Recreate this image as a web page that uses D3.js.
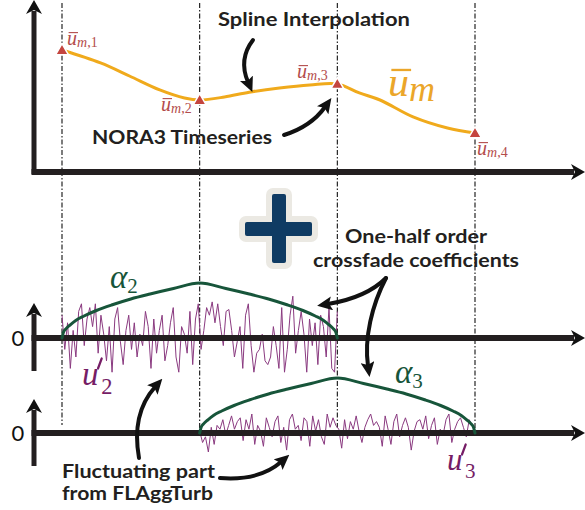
<!DOCTYPE html>
<html><head><meta charset="utf-8">
<script src="https://cdn.jsdelivr.net/npm/d3@7"></script>
<style>
body{margin:0;background:#fff}
.lbl{font-family:Lato,"Open Sans",sans-serif;font-weight:700;fill:#231f20}
.math{font-family:"Liberation Serif","DejaVu Serif",serif}
</style></head><body>
<svg id="fig" width="585" height="510"></svg>
<script>
// NORA3 hourly means (the red triangles)
var nodeT = [0, 1, 2, 3];
var nodeU = [8.13, 4.8, 5.87, 2.6];
var nodeLab = ["m,1", "m,2", "m,3", "m,4"];

// spline through the nodes
var splineT = [0, 0.28, 0.49, 0.71, 0.89, 1.0, 1.18, 1.36, 1.58, 1.8, 2.0, 2.16, 2.31, 2.55, 2.8, 3.0];
var splineU = [8.13, 7.27, 6.4, 5.47, 4.93, 4.8, 5.0, 5.32, 5.6, 5.8, 5.87, 5.27, 4.8, 3.67, 2.93, 2.6];

// one-half order crossfade, rising half (s in [0,1])
var fadeS = [0, 0.01, 0.03, 0.06, 0.1, 0.16, 0.25, 0.36, 0.5, 0.64, 0.81, 1];
var fadeA = [0, 0.1, 0.17, 0.24, 0.32, 0.4, 0.5, 0.6, 0.71, 0.8, 0.9, 1];

// fluctuating parts from FLAggTurb
var u2 = [0.6,-0.3,0.4,-0.8,0.2,-0.5,0.7,0.9,-0.2,0.5,0.8,0.3,0.9,-0.4,0.6,0.1,-0.6,0.3,-0.9,0.5,
  0.8,-0.1,-0.7,0.2,0.6,-0.3,0.4,-0.5,0.1,-0.2,0.7,0.3,-0.8,0.5,-0.4,0.2,0.6,-0.6,-0.2,0.4,
  0.8,-0.5,-0.9,0.3,0.1,-0.4,0.7,-0.7,0.5,0.9,-0.3,0.2,0.8,0.6,0.95,0.4,0.9,0.3,-0.2,0.7,
  0.75,0.2,-0.5,-0.1,0.3,-0.8,0.6,0.9,-0.2,-0.9,-0.4,-0.3,0.1,-0.6,-0.7,-0.5,0.3,-0.2,-0.8,0.8,
  -0.9,-0.3,0.6,1.1,-0.4,0.2,0.7,0.1,-0.9,0.5,-0.2,0.4,-0.7,0.6,0.3,-0.5,0.8,-0.8,-0.9,0.7];
var u3 = [0.05,-0.25,-0.1,-0.5,0.15,-0.3,0.2,0.1,0.35,-0.05,0.2,0.45,0.1,0.3,0.4,-0.2,0.35,0.1,0.5,-0.3,
  0.2,0.05,-0.35,0.4,0.15,-0.1,0.3,0.45,-0.25,0.15,-0.45,0.35,0.5,0.1,0.2,-0.2,0.4,0.3,-0.35,0.45,
  0.05,0.35,-0.1,-0.3,0.5,0.15,0.4,0.2,0.1,-0.4,0.35,-0.15,0.3,0.1,0.45,0.05,-0.25,0.15,0.35,0.5,
  0.2,0.3,0.15,-0.35,0.45,0.1,-0.3,0.3,0.5,-0.1,0.2,0.4,0.15,-0.45,0.05,0.3,0.35,0.1,0.45,-0.15,
  0.2,0.4,-0.3,0.1,-0.05,0.35,0.5,-0.25,0.1,0.3,0.4,0.15,-0.1,0.35,0.2,0.05];

var ink = "#231f20", red = "#c4453f", redTxt = "#b34c4c", gold = "#f0aa1c",
    green = "#17553a", purple = "#8a3a80", purpTxt = "#761d66";

var svg = d3.select("#fig");

var x = d3.scaleLinear().domain([0, 3]).range([62, 475]);
var yTop = d3.scaleLinear().domain([0, 10]).range([172, 22]);
var base2 = 338, base3 = 433;
var yFade = d3.scaleLinear().domain([0, 1]).range([0, 55]);
var yFluc = d3.scaleLinear().domain([-1, 1]).range([38, -38]);

var defs = svg.append("defs");
defs.append("marker").attr("id", "ah")
  .attr("viewBox", "0 -7 15 14").attr("refX", 4).attr("refY", 0)
  .attr("markerWidth", 15).attr("markerHeight", 14)
  .attr("markerUnits", "userSpaceOnUse").attr("orient", "auto")
  .append("path").attr("d", "M0,-7L15,0L0,7L3,0Z").attr("fill", "#111");
defs.append("marker").attr("id", "axh")
  .attr("viewBox", "0 -8 14 16").attr("refX", 3).attr("refY", 0)
  .attr("markerWidth", 14).attr("markerHeight", 16)
  .attr("markerUnits", "userSpaceOnUse").attr("orient", "auto")
  .append("path").attr("d", "M0,-8L14,0L0,8L4,0Z").attr("fill", "#111");

// dash-dot guides at the node times
svg.append("g").selectAll("line").data(nodeT).enter().append("line")
  .attr("x1", d => x(d)).attr("x2", d => x(d))
  .attr("y1", 3).attr("y2", (d, i) => i == 0 ? 425 : 430)
  .attr("stroke", "#111").attr("stroke-width", 1.1)
  .attr("stroke-dasharray", "5,2,1.5,2");

// fluctuations
function flucLine(vals, t0, base) {
  var n = vals.length;
  return d3.line()
    .x((d, i) => x(t0 + 2 * i / (n - 1)))
    .y(d => base + yFluc(d))(vals);
}
svg.append("path").attr("d", flucLine(u2, 0, base2))
  .attr("fill", "none").attr("stroke", purple).attr("stroke-width", 1);
svg.append("path").attr("d", flucLine(u3, 1, base3))
  .attr("fill", "none").attr("stroke", purple).attr("stroke-width", 1);

// axes
function axes(top, base, bottom) {
  svg.append("path").attr("d", "M34," + bottom + "V" + (top + 8))
    .attr("stroke", ink).attr("stroke-width", 5).attr("fill", "none")
    .attr("marker-end", "url(#axh)");
  svg.append("path").attr("d", "M31.5," + base + "H574")
    .attr("stroke", ink).attr("stroke-width", 6).attr("fill", "none")
    .attr("marker-end", "url(#axh)");
}
axes(3, 172, 174);
axes(306, base2, 371);
axes(402, base3, 466);
[base2, base3].forEach(function (b) {
  svg.append("text").attr("x", 18).attr("y", b + 8).attr("text-anchor", "middle")
    .attr("font-family", "Lato, sans-serif").attr("font-size", 22).attr("fill", "#111").text("0");
});

// crossfade coefficients
function fadePts(t0) {
  var up = fadeS.map((s, i) => [t0 + s, fadeA[i]]);
  var down = fadeS.map((s, i) => [t0 + 2 - s, fadeA[i]]).reverse();
  return up.concat(down.slice(1));
}
[[0, base2], [1, base3]].forEach(function (c) {
  var b = c[1];
  svg.append("path")
    .attr("d", d3.line().x(d => x(d[0])).y(d => b - yFade(d[1])).curve(d3.curveMonotoneX)(fadePts(c[0])))
    .attr("fill", "none").attr("stroke", green).attr("stroke-width", 3).attr("stroke-linecap", "round");
});

// spline of the means
svg.append("path")
  .attr("d", d3.line().x((d, i) => x(splineT[i])).y(d => yTop(d)).curve(d3.curveCatmullRom)(splineU))
  .attr("fill", "none").attr("stroke", gold).attr("stroke-width", 3);
svg.append("g").selectAll("path").data(nodeU).enter().append("path")
  .attr("d", d3.symbol().type(d3.symbolTriangle).size(70))
  .attr("transform", (d, i) => "translate(" + x(nodeT[i]) + "," + (yTop(d) + 1) + ")")
  .attr("fill", red).attr("stroke", "#fff").attr("stroke-width", 1.5);

// math labels with an overbar on u
function barU(px, py, sub, size, subSize, color) {
  var t = svg.append("text").attr("class", "math").attr("x", px).attr("y", py).attr("fill", color);
  t.append("tspan").attr("font-style", "italic").attr("font-size", size).text("u");
  var parts = sub.split(",");
  t.append("tspan").attr("font-style", "italic").attr("font-size", subSize).attr("dy", size * 0.12).text(parts[0]);
  if (parts.length > 1) t.append("tspan").attr("font-size", subSize).text("," + parts[1]);
  var w = t.node().getSubStringLength(0, 1);
  svg.append("line").attr("x1", px + size * 0.08).attr("x2", px + w + size * 0.05)
    .attr("y1", py - size * 0.62).attr("y2", py - size * 0.62)
    .attr("stroke", color).attr("stroke-width", Math.max(1, size * 0.055));
}
var labPos = [[67, 45], [161, 111], [297, 78], [477, 155]];
nodeLab.forEach((s, i) => barU(labPos[i][0], labPos[i][1], s, 20, 14, redTxt));
barU(388, 96, "m", 42, 36, "#eba62a");

// u' labels: letter, drawn prime stroke and subscript
function primeU(px, py, sub, size) {
  svg.append("text").attr("class", "math").attr("x", px).attr("y", py)
    .attr("font-style", "italic").attr("font-size", size).attr("fill", purpTxt).text("u");
  var px0 = px + size * 0.5, py0 = py - size * 0.5;
  svg.append("path")
    .attr("d", "M" + (px0 + 3.2) + "," + (py0 - 10) + "L" + (px0 - 0.5) + "," + py0)
    .attr("stroke", purpTxt).attr("stroke-width", 2.2).attr("stroke-linecap", "round");
  svg.append("text").attr("class", "math").attr("x", px + size * 0.58).attr("y", py + size * 0.26)
    .attr("font-size", size * 0.68).attr("fill", purpTxt).text(sub);
}
primeU(82, 385, "2", 33);
primeU(447, 470, "3", 31);

function alphaLab(px, py, sub) {
  var t = svg.append("text").attr("class", "math").attr("x", px).attr("y", py).attr("fill", green);
  t.append("tspan").attr("font-style", "italic").attr("font-size", 33).text("\u03b1");
  t.append("tspan").attr("font-size", 21).attr("dy", 5).text(sub);
}
alphaLab(110, 288, "2");
alphaLab(395, 383, "3");

// captions, stretched to the widths measured on the figure
function cap(px, py, s, w, anchor) {
  svg.append("text").attr("class", "lbl").attr("x", px).attr("y", py)
    .attr("font-size", 19).attr("text-anchor", anchor || "start")
    .attr("textLength", w).attr("lengthAdjust", "spacingAndGlyphs").text(s);
}
cap(218, 26, "Spline Interpolation", 192);
cap(92, 144, "NORA3 Timeseries", 180);
cap(416, 243, "One-half order", 142, "middle");
cap(416, 267, "crossfade coefficients", 206, "middle");
cap(62, 478, "Fluctuating part", 153);
cap(62, 500, "from FLAggTurb", 151);

// pointer arrows
var arrows = [
  "M253,40C243,53 242,68 248,82",
  "M284,135C300,130 315,121 325,107",
  "M386,278C372,292 352,300 328,304",
  "M386,278C372,305 364,338 368,366",
  "M139,458C134,430 139,405 155,387",
  "M220,478C245,480 266,475 281,462"
];
svg.append("g").selectAll("path").data(arrows).enter().append("path")
  .attr("d", d => d).attr("fill", "none").attr("stroke", "#111")
  .attr("stroke-width", 4).attr("stroke-linecap", "round")
  .attr("marker-end", "url(#ah)");

// the big plus
var plus = svg.append("g");
plus.append("rect").attr("x", 239).attr("y", 216).attr("width", 79).attr("height", 26).attr("rx", 7).attr("fill", "#ebe9e3");
plus.append("rect").attr("x", 266).attr("y", 188).attr("width", 26).attr("height", 81).attr("rx", 7).attr("fill", "#ebe9e3");
plus.append("rect").attr("x", 245).attr("y", 222).attr("width", 67).attr("height", 14).attr("rx", 2).attr("fill", "#0f3b63");
plus.append("rect").attr("x", 272).attr("y", 194).attr("width", 14).attr("height", 69).attr("rx", 2).attr("fill", "#0f3b63");
</script>
</body></html>
